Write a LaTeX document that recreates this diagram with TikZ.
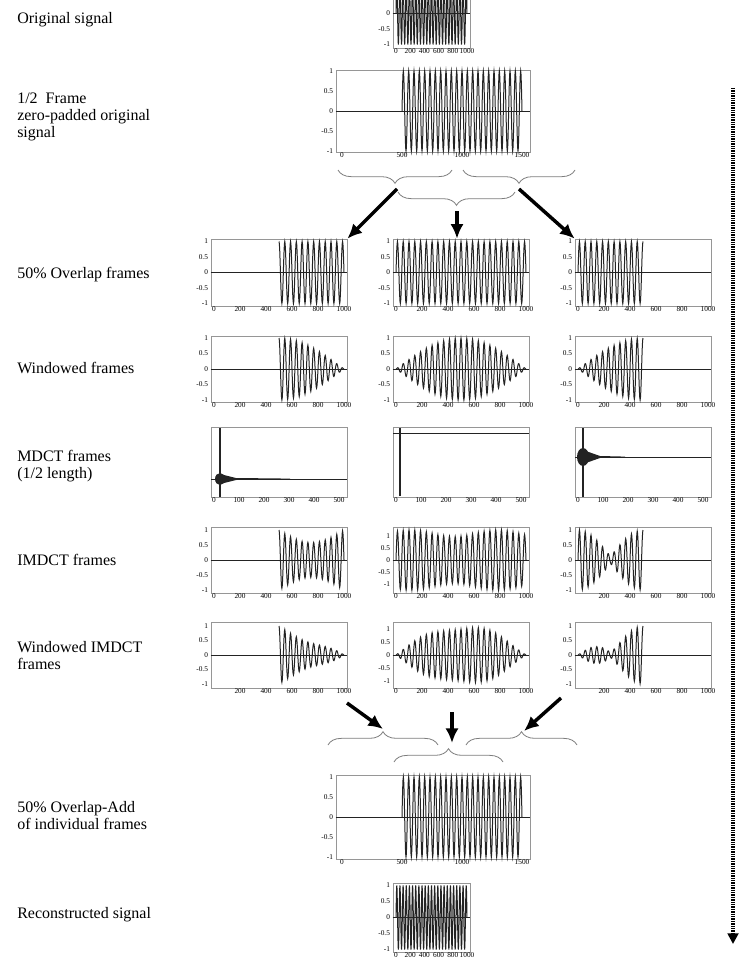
\documentclass[tikz,border=0pt]{standalone}
\usepackage{fontspec}
\setmainfont{Liberation Serif}
\usetikzlibrary{arrows.meta,calc,decorations.pathreplacing}
\definecolor{sigc}{RGB}{35,35,35}
\definecolor{framec}{RGB}{150,150,150}
\definecolor{bracec}{RGB}{125,125,125}

\begin{document}
\begin{tikzpicture}[
  x=0.75pt, y=-0.75pt,
  lbl/.style={anchor=west, align=left, inner sep=0pt,
    font=\fontsize{12}{12.75}\selectfont},
  fr/.style={draw=framec, line width=0.5pt, inner sep=0pt,
    minimum width=102pt, minimum height=49.5pt},
  zl/.style={sigc, line width=0.55pt},
  sig/.style={sigc, line width=0.75pt},
  spk/.style={sigc, line width=1.1pt},
  tk/.style={font=\fontsize{5.5}{6}\selectfont, inner sep=0.6pt},
  ytk/.style={tk, anchor=east},
  xtk/.style={tk, anchor=north},
  brc/.style={decorate, decoration={brace, amplitude=10pt},
    draw=bracec, line width=0.6pt},
  arr/.style={-{Latex[length=11pt,width=10pt]}, line width=2.6pt},
  darr/.style={-{Triangle[length=8pt,width=8pt]}, line width=2.4pt,
    dash pattern=on 1pt off 0.8pt},
  declare function={
    wav(\t)=sin(8.1*\t);
    win(\t)=sin(0.18*\t);
    ea(\t)=1-0.42*sin(0.36*(\t-500));
    eb(\t)=1.12+0.14*sin(0.54*\t+30);
    ec(\t)=0.12+0.88*abs(cos(0.36*\t));
  }
]
\useasboundingbox (0,0) rectangle (741,963);

% ---- row labels ----
\node[lbl] (lOrig) at (17,20) {Original signal};
\node[lbl] (lPad) at (17,117) {1/2\ \ Frame\\zero-padded original\\signal};
\node[lbl] (lOv) at (17,275) {50\% Overlap frames};
\node[lbl] (lWin) at (17,368) {Windowed frames};
\node[lbl] (lMd) at (17,466) {MDCT frames\\(1/2 length)};
\node[lbl] (lIm) at (17,560) {IMDCT frames};
\node[lbl] (lWi) at (17,656) {Windowed IMDCT\\frames};
\node[lbl] (lOla) at (17,816) {50\% Overlap-Add\\of individual frames};
\node[lbl] (lRec) at (17,915) {Reconstructed signal};

% ---- plot frames ----
\node[fr, minimum width=57.75pt, minimum height=51.75pt] (orig) at (431.5,13.5) {};
\node[fr, minimum width=145.5pt, minimum height=61.5pt] (pad) at (433,111) {};
\node[fr, minimum height=50.25pt] (ovA) at (279,272.5) {};
\node[fr, minimum height=50.25pt] (ovB) at (461,272.5) {};
\node[fr, minimum height=50.25pt] (ovC) at (643,272.5) {};
\node[fr] (wnA) at (279,369) {};
\node[fr] (wnB) at (461,369) {};
\node[fr] (wnC) at (643,369) {};
\node[fr, minimum height=52.5pt] (mdA) at (279,462) {};
\node[fr, minimum height=52.5pt] (mdB) at (461,462) {};
\node[fr, minimum height=52.5pt] (mdC) at (643,462) {};
\node[fr] (imA) at (279,560) {};
\node[fr] (imB) at (461,560) {};
\node[fr] (imC) at (643,560) {};
\node[fr] (wiA) at (279,655) {};
\node[fr] (wiB) at (461,655) {};
\node[fr] (wiC) at (643,655) {};
\node[fr, minimum width=145.5pt, minimum height=63pt] (ola) at (433,817) {};
\node[fr, minimum width=57.75pt, minimum height=51.75pt] (rec) at (431.5,917.5) {};

% zero lines
\foreach \p in {orig,pad,ovA,ovB,ovC,wnA,wnB,wnC,imA,imB,imC,wiA,wiB,wiC,ola,rec}
  \draw[zl] (\p.west) -- (\p.east);

% ---- signals ----
\begin{scope}[shift={(396,13.5)}, xscale=0.071, yscale=-31]
  \draw[sig] plot[domain=0:1000, samples=361] (\x,{wav(\x)});
\end{scope}
\begin{scope}[shift={(342,111)}, xscale=0.12, yscale=-40]
  \draw[sig] plot[domain=500:1500, samples=361] (\x,{wav(\x-500)});
\end{scope}
% overlap frames
\begin{scope}[shift={(214,272.5)}, xscale=0.13, yscale=-31]
  \draw[sig] plot[domain=500:1000, samples=181] (\x,{wav(\x)});
\end{scope}
\begin{scope}[shift={(396,272.5)}, xscale=0.13, yscale=-31]
  \draw[sig] plot[domain=0:1000, samples=361] (\x,{wav(\x)});
\end{scope}
\begin{scope}[shift={(578,272.5)}, xscale=0.13, yscale=-31]
  \draw[sig] plot[domain=0:500, samples=181] (\x,{wav(\x)});
\end{scope}
% windowed frames
\begin{scope}[shift={(214,369)}, xscale=0.13, yscale=-31]
  \draw[sig] plot[domain=500:1000, samples=181] (\x,{win(\x)*wav(\x)});
\end{scope}
\begin{scope}[shift={(396,369)}, xscale=0.13, yscale=-31]
  \draw[sig] plot[domain=0:1000, samples=361] (\x,{win(\x)*wav(\x)});
\end{scope}
\begin{scope}[shift={(578,369)}, xscale=0.13, yscale=-31]
  \draw[sig] plot[domain=0:500, samples=181] (\x,{win(\x)*wav(\x)});
\end{scope}
% MDCT frames
\draw[zl, line width=0.7pt] (211,479) -- (347,479);
\draw[spk] (220,428) -- (220,497);
\fill[sigc] (220,479) ellipse [x radius=5, y radius=6];
\fill[sigc] (220,474) -- (236,478) -- (290,478.6) -- (290,479.4) -- (236,480) -- (220,484) -- cycle;
\draw[zl, line width=0.7pt] (393,433) -- (529,433);
\draw[spk] (400,428) -- (400,496);
\draw[zl, line width=0.7pt] (575,457) -- (711,457);
\draw[spk] (583,428) -- (583,497);
\fill[sigc] (583,457) ellipse [x radius=6, y radius=9];
\fill[sigc] (583,450) -- (600,456) -- (625,456.6) -- (625,457.4) -- (600,458) -- (583,464) -- cycle;
% IMDCT frames
\begin{scope}[shift={(214,560)}, xscale=0.13, yscale=-30]
  \draw[sig] plot[domain=500:1000, samples=181] (\x,{ea(\x)*wav(\x)});
\end{scope}
\begin{scope}[shift={(396,560)}, xscale=0.13, yscale=-24]
  \draw[sig] plot[domain=0:1000, samples=361] (\x,{eb(\x)*wav(\x)});
\end{scope}
\begin{scope}[shift={(578,560)}, xscale=0.13, yscale=-30]
  \draw[sig] plot[domain=0:500, samples=181] (\x,{ec(\x)*wav(\x)});
\end{scope}
% windowed IMDCT frames
\begin{scope}[shift={(214,655)}, xscale=0.13, yscale=-29]
  \draw[sig] plot[domain=500:1000, samples=181] (\x,{win(\x)*ea(\x)*wav(\x)});
\end{scope}
\begin{scope}[shift={(396,655)}, xscale=0.13, yscale=-26]
  \draw[sig] plot[domain=0:1000, samples=361] (\x,{win(\x)*eb(\x)*wav(\x)});
\end{scope}
\begin{scope}[shift={(578,655)}, xscale=0.13, yscale=-29]
  \draw[sig] plot[domain=0:500, samples=181] (\x,{win(\x)*ec(\x)*wav(\x)});
\end{scope}
% overlap-add and reconstruction
\begin{scope}[shift={(342,817)}, xscale=0.12, yscale=-40]
  \draw[sig] plot[domain=500:1500, samples=361] (\x,{wav(\x-500)});
\end{scope}
\begin{scope}[shift={(396,917.5)}, xscale=0.071, yscale=-32]
  \draw[sig] plot[domain=0:1000, samples=361] (\x,{wav(\x)});
\end{scope}

% ---- y tick labels ----
\foreach \v [count=\k] in {0,-0.5,-1}
  \node[ytk] (origy\k) at (391,{13.5-(\v)*31}) {\v};
\foreach \p/\l/\z/\u in {pad/334/111/40, ovA/209/272.5/31,
    ovB/391/272.5/31, ovC/573/272.5/31, wnA/209/369/31, wnB/391/369/31,
    wnC/573/369/31, imA/209/560/30, imB/391/560/24, imC/573/560/30,
    wiA/209/655/29, wiB/391/655/26, wiC/573/655/29, ola/334/817/40,
    rec/391/917.5/32}
  \foreach \v [count=\k] in {1,0.5,0,-0.5,-1}
    \node[ytk] (\p y\k) at (\l,{\z-(\v)*\u}) {\v};

% ---- x tick labels ----
\foreach \p/\l/\b in {ovA/214/306, ovB/396/306, ovC/578/306, wnA/214/402,
    wnB/396/402, wnC/578/402, imA/214/593, imB/396/593, wiB/396/688}
  \foreach \v in {0,200,...,1000}
    \node[xtk] (\p x\v) at ({\l+\v*0.13},\b) {\v};
\foreach \p/\l/\b in {imC/578/593, wiA/214/688, wiC/578/688}
  \foreach \v in {200,400,...,1000}
    \node[xtk] (\p x\v) at ({\l+\v*0.13},\b) {\v};
\foreach \p/\l in {mdA/214, mdB/396, mdC/578}
  \foreach \v in {0,100,...,500}
    \node[xtk] (\p x\v) at ({\l+\v*0.25},497) {\v};
\foreach \p/\b in {orig/48, rec/952}
  \foreach \v in {0,200,...,1000}
    \node[xtk] (\p x\v) at ({396+\v*0.071},\b) {\v};
\foreach \p/\b in {pad/152, ola/859}
  \foreach \v in {0,500,1000,1500}
    \node[xtk] (\p x\v) at ({342+\v*0.12},\b) {\v};

% ---- braces ----
\draw[brc] (452,170) -- (338,170);
\draw[brc] (575,170) -- (463,170);
\draw[brc] (515,192) -- (398,192);
\draw[brc] (328,745) -- (438,745);
\draw[brc] (466,745) -- (577,745);
\draw[brc] (394,762) -- (503,762);

% ---- arrows ----
\coordinate (sA) at (397,189);
\coordinate (sB) at (457,211);
\coordinate (sC) at (519,189);
\draw[arr] (sA) -- (ovA.north east);
\draw[arr] (sB) -- (sB |- ovB.north);
\draw[arr] (sC) -- (ovC.north west);

\coordinate (fA) at (347,703);
\coordinate (fB) at (452,712);
\coordinate (fC) at (561,698);
\coordinate (eA) at (383,729);
\coordinate (eB) at (452,743);
\coordinate (eC) at (524,731);
\draw[arr] (fA) -- (eA);
\draw[arr] (fB) -- (eB);
\draw[arr] (fC) -- (eC);

% ---- time line ----
\coordinate (dT) at (733,88);
\coordinate (dB) at (733,944);
\draw[darr] (dT) -- (dB);

\end{tikzpicture}
\end{document}
